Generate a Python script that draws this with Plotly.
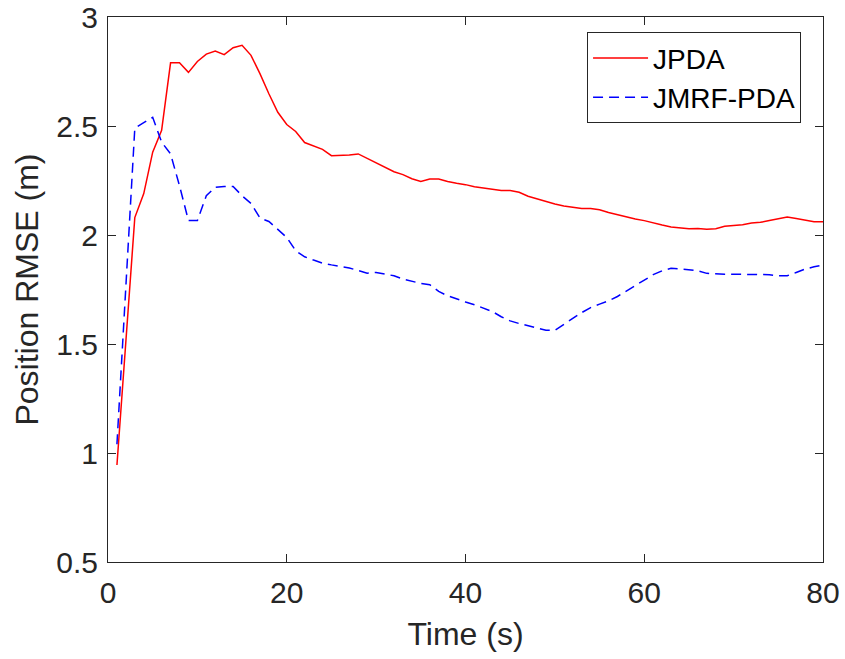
import plotly.graph_objects as go

time_s = list(range(1, 81))

jpda = [0.945, 1.52, 2.08, 2.19, 2.38, 2.48, 2.79, 2.79, 2.746, 2.796,
        2.83, 2.844, 2.827, 2.859, 2.87, 2.824, 2.74, 2.648, 2.563, 2.507,
        2.475, 2.424, 2.41, 2.393, 2.364, 2.364, 2.367, 2.372, 2.352, 2.331,
        2.31, 2.29, 2.277, 2.258, 2.246, 2.257, 2.257, 2.245, 2.237, 2.231,
        2.221, 2.216, 2.21, 2.204, 2.204, 2.196, 2.178, 2.166, 2.153, 2.142,
        2.133, 2.127, 2.122, 2.122, 2.116, 2.103, 2.092, 2.081, 2.073, 2.066,
        2.055, 2.046, 2.037, 2.032, 2.029, 2.03, 2.026, 2.029, 2.04, 2.044,
        2.047, 2.055, 2.058, 2.066, 2.073, 2.083, 2.076, 2.069, 2.061, 2.061]

jmrf_pda = [1.04, 1.78, 2.49, 2.515, 2.54, 2.426, 2.372, 2.226, 2.066, 2.066,
            2.18, 2.219, 2.223, 2.223, 2.18, 2.145, 2.078, 2.062, 2.027, 1.989,
            1.928, 1.90, 1.885, 1.871, 1.863, 1.856, 1.849, 1.837, 1.825, 1.828,
            1.82, 1.813, 1.798, 1.788, 1.778, 1.772, 1.741, 1.721, 1.706, 1.693,
            1.68, 1.665, 1.649, 1.625, 1.606, 1.594, 1.583, 1.573, 1.563, 1.563,
            1.588, 1.617, 1.644, 1.667, 1.683, 1.698, 1.718, 1.744, 1.767, 1.793,
            1.818, 1.836, 1.847, 1.844, 1.839, 1.836, 1.824, 1.821, 1.82, 1.82,
            1.82, 1.82, 1.82, 1.818, 1.813, 1.813, 1.828, 1.844, 1.854, 1.862]

x_ticks = [0, 20, 40, 60, 80]
y_ticks = [0.5, 1, 1.5, 2, 2.5, 3]
y_tick_labels = ["0.5", "1", "1.5", "2", "2.5", "3"]

FONT = "Liberation Sans, Arial, Helvetica, sans-serif"
AX = "#262626"

fig = go.Figure()
fig.add_trace(go.Scatter(x=time_s, y=jpda, mode="lines", name="JPDA",
                         line=dict(color="#ff0000", width=1.5)))
fig.add_trace(go.Scatter(x=time_s, y=jmrf_pda, mode="lines", name="JMRF-PDA",
                         line=dict(color="#0000ff", width=1.5, dash="10px,6px")))

axis_common = dict(showline=True, linecolor=AX, linewidth=1, mirror="ticks",
                   ticks="inside", ticklen=8, tickcolor=AX, tickwidth=1,
                   showgrid=False, zeroline=False, automargin=False,
                   tickfont=dict(family=FONT, size=30, color=AX))

fig.update_layout(
    width=845, height=659,
    margin=dict(l=108, r=22, t=17, b=97, autoexpand=False),
    paper_bgcolor="white", plot_bgcolor="white",
    font=dict(family=FONT, color=AX),
    showlegend=True,
    legend=dict(x=0.67, y=0.972, xanchor="left", yanchor="top",
                bgcolor="white", bordercolor=AX, borderwidth=1,
                font=dict(family=FONT, size=28, color="black"),
                itemwidth=55, tracegroupgap=0),
    xaxis=dict(range=[0, 80], tickvals=x_ticks, ticklabelstandoff=4,
               title=dict(text="Time (s)", font=dict(family=FONT, size=32, color=AX), standoff=14),
               **axis_common),
    yaxis=dict(range=[0.5, 3], tickvals=y_ticks, ticktext=y_tick_labels, ticklabelstandoff=3,
               title=dict(text="Position RMSE (m)", font=dict(family=FONT, size=32, color=AX), standoff=8),
               **axis_common),
)

fig.write_html("out.html")
